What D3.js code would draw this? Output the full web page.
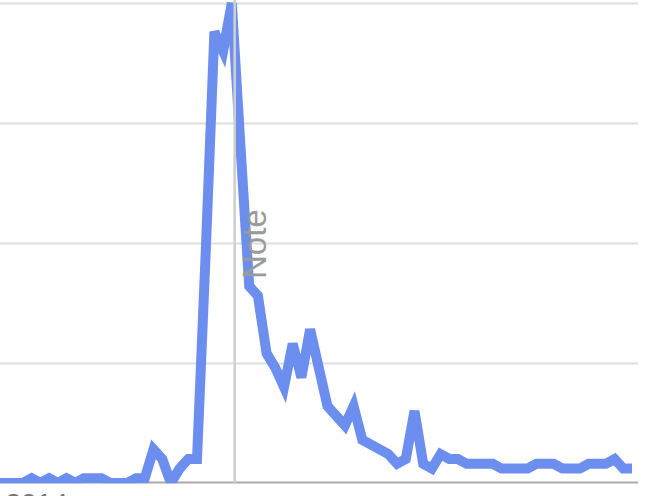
<!DOCTYPE html>
<html>
<head>
<meta charset="utf-8">
<script src="https://cdn.jsdelivr.net/npm/d3@7"></script>
<style>
html, body { margin: 0; padding: 0; background: #fff; overflow: hidden; }
svg { display: block; }
</style>
</head>
<body>
<svg id="chart" width="654" height="496"></svg>
<script>
// ---- data ----
const values = [
  0,0,0,0,1,0,1,0,1,0,
  1,1,1,0,0,0,1,1,7,5,
  0,3,5,5,48,94,90,100,70,41,
  39,27,24,20,29,22,32,24,16,14,
  12,16,9,8,7,6,4,5,15,4,
  3,6,5,5,4,4,4,4,3,3,
  3,3,4,4,4,3,3,3,4,4,
  4,5,3,3
];
const categories = values.map((_, i) => i);   // period index
const yTicks = [0, 25, 50, 75, 100];
const noteLabel = "Note";
const noteAt = 27.33;          // period index of the annotation
const xTickLabels = ["2014"];
const xTickAt = [4.5];

// ---- layout ----
const svg = d3.select("#chart");

const x = d3.scaleLinear().domain([0, categories.length - 1]).range([-3.1, 632]);
const y = d3.scaleLinear().domain([0, 100]).range([483, 3]);

// gridlines
const grid = svg.append("g")
  .call(d3.axisLeft(y).tickValues(yTicks.filter(t => t > 0)).tickSize(-638).tickFormat(""));
grid.select(".domain").remove();
grid.selectAll(".tick line").attr("stroke", "#dedede").attr("stroke-width", 2.2);

// baseline axis with (mostly cut-off) year label
const xAxis = svg.append("g")
  .attr("transform", `translate(0,${y(0)})`)
  .call(d3.axisBottom(x).tickValues(xTickAt).tickSize(0).tickFormat((d, i) => xTickLabels[i]));
xAxis.select(".domain").remove();
xAxis.selectAll(".tick text")
  .attr("dy", null).attr("y", 30)
  .attr("font-family", "Liberation Sans, Arial, sans-serif")
  .attr("font-size", 28).attr("fill", "#777");
svg.append("line")
  .attr("x1", 0).attr("x2", 638)
  .attr("y1", y(0) - 0.6).attr("y2", y(0) - 0.6)
  .attr("stroke", "#aaa").attr("stroke-width", 2);

// clip for the series
svg.append("clipPath").attr("id", "plotclip")
  .append("rect").attr("x", -20).attr("y", -20).attr("width", 680).attr("height", 483.3 + 20);

const line = d3.line().x((d, i) => x(categories[i])).y(d => y(d));
svg.append("path")
  .datum(values)
  .attr("clip-path", "url(#plotclip)")
  .attr("fill", "none")
  .attr("stroke", "#6c8fef")
  .attr("stroke-width", 10)
  .attr("stroke-linejoin", "miter")
  .attr("d", line);

// annotation
const nx = x(noteAt);
svg.append("line")
  .attr("x1", nx).attr("x2", nx)
  .attr("y1", 0).attr("y2", y(0))
  .attr("stroke", "#cfcfcf").attr("stroke-width", 2.6);
svg.append("text")
  .attr("transform", `translate(${nx + 31.5},279) rotate(-90)`)
  .attr("font-family", "Liberation Sans, Arial, sans-serif")
  .attr("font-size", 33)
  .attr("fill", "#9a9a9a")
  .text(noteLabel);
</script>
</body>
</html>
